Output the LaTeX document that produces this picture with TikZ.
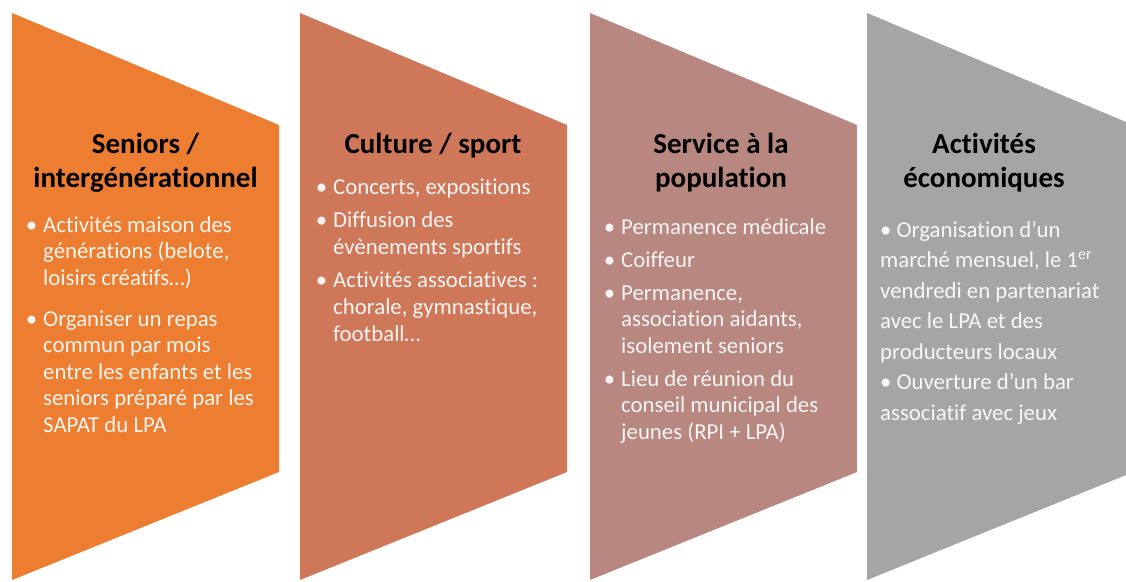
\documentclass[tikz,border=0pt]{standalone}
\usepackage{fontspec}
\setmainfont{Carlito}[Ligatures=NoCommon]
\definecolor{seniorsfill}{HTML}{ED7D31}
\definecolor{culturefill}{HTML}{CF7859}
\definecolor{servicefill}{HTML}{B8877F}
\definecolor{ecofill}{HTML}{A5A5A5}
\tikzset{
	title text/.style={align=center, anchor=base, inner sep=0pt, font=\fontsize{29}{34}\selectfont\bfseries},
	item text/.style={align=left, anchor=base west, inner sep=0pt, font=\fontsize{22.8}{26.5}\selectfont, text=white!92!#1}
}
\newcommand{\puce}{\llap{\textbullet\hspace{6pt}}}

\begin{document}
\begin{tikzpicture}[x=1pt, y=-1pt]
	\useasboundingbox (0,0) rectangle (1126,581);

	% the four chevrons
	\fill[seniorsfill] (12,13) -- (279,125) -- (279,472) -- (12,580) -- cycle;
	\fill[culturefill] (300,13) -- (567,125) -- (567,472) -- (300,580) -- cycle;
	\fill[servicefill] (590,13) -- (857,125) -- (857,472) -- (590,580) -- cycle;
	\fill[ecofill] (867,13) -- (1126,122) -- (1126,475) -- (867,580) -- cycle;

	% titles (base = last line)
	\node[title text] (seniors-title) at (145.5,187) {Seniors /\\intergénérationnel};
	\node[title text] (culture-title) at (433,153) {Culture / sport};
	\node[title text] (service-title) at (721,187) {Service à la\\population};
	\node[title text] (eco-title) at (984,187) {Activités\\économiques};

	% lists (base = last line)
	\node[item text=seniorsfill] (seniors-items) at (43,432) {\puce Activités maison des\\générations (belote,\\loisirs créatifs…)\\[14.5pt]\puce Organiser un repas\\commun par mois\\entre les enfants et les\\seniors préparé par les\\SAPAT du LPA};
	\node[item text=culturefill, font=\fontsize{22.8}{27}\selectfont] (culture-items) at (333,341) {\puce Concerts, expositions\\[6pt]\puce Diffusion des\\évènements sportifs\\[6pt]\puce Activités associatives :\\chorale, gymnastique,\\football…};
	\node[item text=servicefill] (service-items) at (621,439) {\puce Permanence médicale\\[6.5pt]\puce Coiffeur\\[6.5pt]\puce Permanence,\\association aidants,\\isolement seniors\\[6.5pt]\puce Lieu de réunion du\\conseil municipal des\\jeunes (RPI + LPA)};
	\node[item text=ecofill, font=\fontsize{22.8}{30.5}\selectfont] (eco-items) at (880,420) {\textbullet\hspace{5pt}Organisation d’un\\marché mensuel, le 1\textsuperscript{er}\\vendredi en partenariat\\avec le LPA et des\\producteurs locaux\\\textbullet\hspace{5pt}Ouverture d’un bar\\associatif avec jeux};
\end{tikzpicture}
\end{document}
